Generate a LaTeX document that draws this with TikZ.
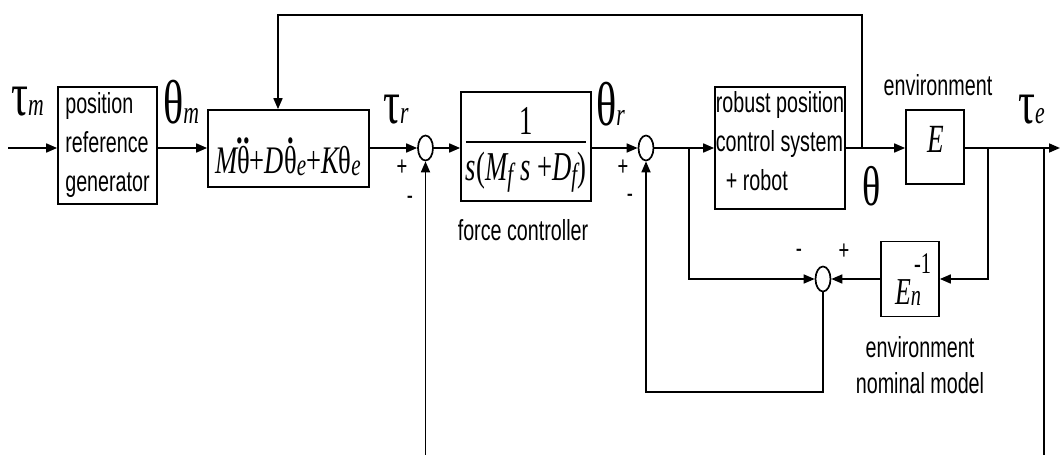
\documentclass[tikz,border=0pt]{standalone}
\usepackage{fontspec}
\setmainfont{Liberation Sans}
\newfontfamily\lab[FakeStretch=0.68]{Liberation Sans}
\newfontfamily\mth[FakeStretch=0.68]{Liberation Serif}
\newfontfamily\mthf[FakeStretch=0.65]{Liberation Serif}
\newfontfamily\lblf[FakeStretch=0.68]{Liberation Serif}
\usetikzlibrary{arrows.meta,shapes.geometric,calc}
\newsavebox\dbox
\newcommand\dotover[2]{\sbox\dbox{#2}\rlap{\makebox[\wd\dbox]{\raisebox{0.76em}{\bfseries#1}}}\usebox\dbox}
\newcommand\lowsub[1]{\raisebox{-0.06em}{\fontsize{31}{31}\selectfont\itshape #1}}
\newcommand\fsub[1]{\raisebox{-0.12em}{\fontsize{32}{32}\selectfont\itshape #1}}
\newcommand\fracbox[2]{\vbox{\halign{\hfil##\hfil\cr#1\cr\noalign{\kern7pt\hrule height 2pt\kern9pt}#2\cr}}}
\tikzset{
  blk/.style={draw, line width=1.7pt, inner sep=0pt},
  txt/.style={font=\lab\fontsize{29}{39}\selectfont},
  sumj/.style={draw, ellipse, line width=1.7pt, minimum width=15pt, minimum height=25pt, inner sep=0pt},
  conn/.style={line width=1.7pt},
  arr/.style={conn, -{Triangle[length=11pt,width=9pt]}},
  sgn/.style={font=\lab\fontsize{27}{27}\selectfont, inner sep=0pt},
  lbl/.style={font=\lblf, inner sep=0pt, anchor=base west},
}
\begin{document}
\begin{tikzpicture}[x=1pt,y=-1pt]
\useasboundingbox (0,0) rectangle (1061,455);
% blocks
\node[blk, txt, align=left, minimum width=99pt, minimum height=117pt] (prg) at (107.5,145.5) {position\\reference\\generator};
\node[blk, minimum width=161pt, minimum height=77pt] (mb) at (288.5,148.5) {};
\node[inner sep=0pt, anchor=base, font=\mth\fontsize{39}{39}\selectfont] (mbt) at (288,173)
  {\itshape M\upshape\dotover{..}{θ}+\itshape D\upshape\dotover{.}{θ}\lowsub{e}+\itshape K\upshape θ\lowsub{e}};
\node[sumj] (s1) at (425.5,148) {};
\node[blk, minimum width=130pt, minimum height=109pt] (fc) at (526,146.5) {};
\node[inner sep=0pt, font=\mthf\fontsize{41}{41}\selectfont] (fct) at (526,150)
  {\fracbox{1}{\itshape s\upshape(\itshape M\fsub{f}\,s\upshape\ +\itshape D\fsub{f}\upshape)}};
\node[txt, inner sep=0pt] (fcl) at (523,230) {force controller};
\node[sumj] (s2) at (646,148) {};
\node[blk, minimum width=130pt, minimum height=122pt] (rb) at (780,148) {};
\node[txt, align=left, inner sep=0pt] (rbt) at (780,141)
  {robust position\\control system\\\hspace*{10pt}+ robot};
\node[blk, minimum width=58pt, minimum height=74pt] (E) at (935,147) {};
\node[inner sep=0pt, font=\mth\fontsize{40}{40}\selectfont\itshape] (Et) at (936,139) {E};
\node[txt, inner sep=0pt] (envl) at (938,85) {environment};
\node[sumj] (s3) at (823,279) {};
\node[blk, minimum width=58pt, minimum height=75pt] (Ei) at (910,279) {};
\node[inner sep=0pt, anchor=base west, font=\mth\fontsize{38}{38}\selectfont] (Eit) at (895,304)
  {\itshape E\raisebox{-0.05em}{\fontsize{30}{30}\selectfont\itshape n}\hspace{-7pt}\upshape\raisebox{31pt}{\fontsize{30}{30}\selectfont -1}};
\node[txt, align=center, inner sep=0pt, font=\lab\fontsize{29}{36}\selectfont] (envn) at (920,365) {environment\\nominal model};
% signal labels
\node[lbl] (taum) at (11,115) {\fontsize{62}{62}\selectfont τ\fontsize{32}{32}\selectfont\itshape m};
\node[lbl] (thm) at (163,123) {\fontsize{62}{62}\selectfont θ\fontsize{32}{32}\selectfont\itshape m};
\node[lbl] (taur) at (383,123) {\fontsize{62}{62}\selectfont τ\fontsize{32}{32}\selectfont\itshape r};
\node[lbl] (thr) at (596,125) {\fontsize{62}{62}\selectfont θ\fontsize{32}{32}\selectfont\itshape r};
\node[lbl] (th) at (862,205) {\fontsize{56}{56}\selectfont θ};
\node[lbl] (taue) at (1018,123) {\fontsize{62}{62}\selectfont τ\fontsize{32}{32}\selectfont\itshape e};
% signs
\node[sgn] (p1) at (402,168) {+};
\node[sgn] (m1) at (410,200) {-};
\node[sgn] (p2) at (623,168) {+};
\node[sgn] (m2) at (630,198) {-};
\node[sgn] (m3) at (799,253) {-};
\node[sgn] (p3) at (844,252) {+};
% coordinates
\coordinate (in) at (8,148);
\coordinate (out) at (1060,148);
\coordinate (tb) at (862,148);
\coordinate (fbx) at (278,15);
\coordinate (b1) at (689,148);
\coordinate (b2) at (988,148);
\coordinate (b3) at (1044,148);
\coordinate (bot1) at (425.5,455);
\coordinate (bot2) at (1044,455);
% connectors
\draw[arr] (in) -- (prg.west |- in);
\draw[arr] (prg.east |- in) -- (mb.west |- in);
\draw[arr] (mb.east |- in) -- (s1.west);
\draw[arr] (s1.east) -- (fc.west |- in);
\draw[arr] (fc.east |- in) -- (s2.west);
\draw[arr] (s2.east) -- (rb.west |- in);
\draw[arr] (rb.east |- in) -- (E.west |- in);
\draw[arr] (E.east |- in) -- (out);
\draw[arr] (tb) |- (fbx) -- (fbx |- mb.north);
\draw[arr] (b1) |- (s3.west);
\draw[arr] (b2) |- (Ei.east);
\draw[arr] (Ei.west) -- (s3.east);
\draw[arr] (s3.south) -- (s3.south |- 0,392) -| (s2.south);
\draw[arr] (bot1) -- (s1.south);
\draw[conn] (b3) -- (bot2);
\end{tikzpicture}
\end{document}
